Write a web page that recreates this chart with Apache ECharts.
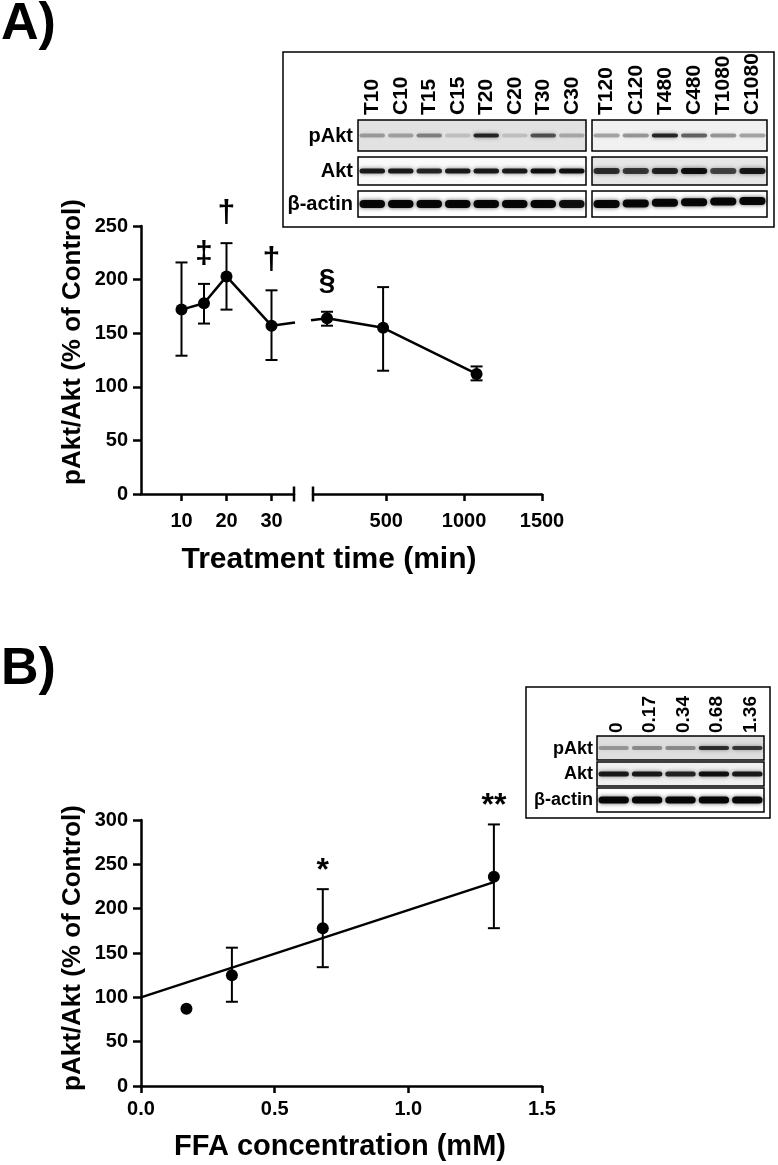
<!DOCTYPE html>
<html>
<head>
<meta charset="utf-8">
<script src="https://cdn.jsdelivr.net/npm/echarts@6/dist/echarts.min.js"></script>
<style>
html,body{margin:0;padding:0;background:#fff;}
#c{width:778px;height:1165px;}
</style>
</head>
<body>
<div id="c"></div>
<script>
// ---------- Panel A data ----------
const timeEarly = [10, 15, 20, 30];
const meanEarly = [172, 178, 203, 157];
const lowEarly  = [129, 159, 172, 125];
const highEarly = [216, 196, 234, 190];
const markEarly = ['', '‡', '†', '†'];

const timeLate = [120, 480, 1080];
const meanLate = [164, 155, 112];
const lowLate  = [157, 115, 106];
const highLate = [170, 193, 119];
const markLate = ['§', '', ''];

const ticksEarly = [10, 20, 30];
const ticksLate = [500, 1000, 1500];

// ---------- Panel B data ----------
const concB = [0.17, 0.34, 0.68, 1.32];
const meanB = [87, 125, 178, 236];
const lowB  = [null, 95, 134, 178];
const highB = [null, 156, 222, 295];
const markB = ['', '', '*', '**'];
const fitX = [0, 1.32];
const fitY = [100, 230];

// ---------- Blot labels / band intensities ----------
const lanesA1 = ['T10','C10','T15','C15','T20','C20','T30','C30'];
const lanesA2 = ['T120','C120','T480','C480','T1080','C1080'];
const lanesB = ['0','0.17','0.34','0.68','1.36'];
const rowsBlot = ['pAkt','Akt','β-actin'];
const pAktA1 = [0.3,0.28,0.4,0.15,0.8,0.15,0.6,0.25];
const pAktA2 = [0.3,0.35,0.8,0.55,0.35,0.3];
const aktA1  = [0.85,0.85,0.8,0.85,0.85,0.85,0.9,0.9];
const aktA2  = [0.75,0.7,0.8,0.9,0.65,0.85];
const actA1  = [0.95,0.95,0.95,0.95,0.95,0.95,0.95,0.9];
const actA2  = [0.95,0.95,0.95,0.95,0.95,0.95];
const pAktB = [0.3,0.35,0.35,0.75,0.7];
const aktB  = [0.85,0.85,0.8,0.9,0.85];
const actB  = [0.95,0.95,0.95,0.95,0.95];

const FF = '"Liberation Sans", Arial, sans-serif';
const chart = echarts.init(document.getElementById('c'), null, {renderer:'canvas'});

function errSeries(xs, lo, hi, marks, xi, yi, offset, fs) {
  const data = [];
  xs.forEach((x, i) => { if (lo[i] != null) data.push([x, lo[i], hi[i], i]); });
  return {
    type: 'custom', xAxisIndex: xi, yAxisIndex: yi, clip: false, z: 3,
    data: data,
    renderItem: function (params, api) {
      const x = api.value(0), l = api.value(1), h = api.value(2), idx = api.value(3);
      const ch = [];
      const cw = 6;
      const pl = api.coord([x, l]), ph = api.coord([x, h]);
      const st = {stroke:'#000', lineWidth:2};
      ch.push({type:'line', shape:{x1:pl[0],y1:pl[1],x2:ph[0],y2:ph[1]}, style:st});
      ch.push({type:'line', shape:{x1:pl[0]-cw,y1:pl[1],x2:pl[0]+cw,y2:pl[1]}, style:st});
      ch.push({type:'line', shape:{x1:ph[0]-cw,y1:ph[1],x2:ph[0]+cw,y2:ph[1]}, style:st});
      if (marks[idx]) {
        ch.push({type:'text', x: ph[0], y: ph[1] + offset,
          style:{text: marks[idx], align:'center', verticalAlign:'middle', fill:'#000',
            font: 'bold ' + fs + 'px ' + FF}});
      }
      return {type:'group', children: ch};
    }
  };
}

const axisLineStyle = {show:true, onZero:false, lineStyle:{color:'#000', width:2.5}};
const labelStyle = {color:'#000', fontWeight:'bold', fontSize:20, fontFamily:FF};
const tickStyle = {color:'#000', width:2.5};

const option = {
  animation: false,
  backgroundColor: '#fff',
  grid: [
    {left:141, top:226, width:153, height:268},
    {left:313, top:226, width:229, height:268},
    {left:141, top:820, width:401, height:266}
  ],
  xAxis: [
    {gridIndex:0, type:'value', min:1, max:35, axisLine:axisLineStyle,
     axisTick:{show:true, length:7, lineStyle:tickStyle, customValues: ticksEarly},
     axisLabel:Object.assign({margin:17, customValues: ticksEarly, formatter: v => String(v)}, labelStyle), splitLine:{show:false}},
    {gridIndex:1, type:'value', min:30, max:1500, axisLine:axisLineStyle,
     axisTick:{show:true, length:7, lineStyle:tickStyle, customValues: ticksLate},
     axisLabel:Object.assign({margin:17, customValues: ticksLate, formatter: v => String(v)}, labelStyle), splitLine:{show:false}},
    {gridIndex:2, type:'value', min:0, max:1.5, interval:0.5, axisLine:axisLineStyle,
     axisTick:{show:true, length:7, lineStyle:tickStyle},
     axisLabel:Object.assign({margin:13, formatter: v => v.toFixed(1)}, labelStyle), splitLine:{show:false}}
  ],
  yAxis: [
    {gridIndex:0, type:'value', min:0, max:250, interval:50, axisLine:axisLineStyle,
     axisTick:{show:true, length:8, lineStyle:tickStyle},
     axisLabel:Object.assign({margin:13}, labelStyle), splitLine:{show:false}},
    {gridIndex:1, type:'value', min:0, max:250, interval:50, show:false, splitLine:{show:false}},
    {gridIndex:2, type:'value', min:0, max:300, interval:50, axisLine:axisLineStyle,
     axisTick:{show:true, length:8, lineStyle:tickStyle},
     axisLabel:Object.assign({margin:13}, labelStyle), splitLine:{show:false}}
  ],
  series: [
    errSeries(timeEarly, lowEarly, highEarly, markEarly, 0, 0, -30, 32),
    errSeries(timeLate, lowLate, highLate, markLate, 1, 1, -31, 30),
    errSeries(concB, lowB, highB, markB, 2, 2, -18, 32),
    {type:'line', xAxisIndex:0, yAxisIndex:0, data: timeEarly.map((t,i)=>[t, meanEarly[i]]),
     symbol:'circle', symbolSize:12, itemStyle:{color:'#000'}, lineStyle:{color:'#000', width:2.5}, z:4, clip:false},
    {type:'line', xAxisIndex:1, yAxisIndex:1, data: timeLate.map((t,i)=>[t, meanLate[i]]),
     symbol:'circle', symbolSize:12, itemStyle:{color:'#000'}, lineStyle:{color:'#000', width:2.5}, z:4, clip:false},
    {type:'line', xAxisIndex:2, yAxisIndex:2, data: fitX.map((x,i)=>[x, fitY[i]]),
     symbol:'none', lineStyle:{color:'#000', width:2.5}, z:2},
    {type:'scatter', xAxisIndex:2, yAxisIndex:2, data: concB.map((c,i)=>[c, meanB[i]]),
     symbol:'circle', symbolSize:12, itemStyle:{color:'#000', opacity:1}, z:4}
  ]
};
chart.setOption(option);

// ---------- graphic overlay ----------
const g = [];
function txt(x, y, s, size, opts) {
  g.push(Object.assign({type:'text', x:x, y:y, z:10,
    style:Object.assign({text:s, fill:'#000', font:'bold ' + size + 'px ' + FF, align:'center', verticalAlign:'middle'}, (opts||{}).style||{})},
    (opts||{}).el||{}));
}
function rect(x, y, w, h, fill, stroke, lw, z) {
  g.push({type:'rect', shape:{x:x, y:y, width:w, height:h}, z:z||5,
    style:{fill:fill||'none', stroke:stroke||null, lineWidth:lw||0}});
}
function line(x1, y1, x2, y2, w) {
  g.push({type:'line', shape:{x1:x1, y1:y1, x2:x2, y2:y2}, z:6, style:{stroke:'#000', lineWidth:w||2}});
}

// panel letters
txt(1, 25, 'A)', 52, {style:{align:'left'}});
txt(1, 670, 'B)', 52, {style:{align:'left'}});

// axis titles
txt(73, 342, 'pAkt/Akt (% of Control)', 26, {el:{rotation:Math.PI/2}});
txt(329, 560, 'Treatment time (min)', 30);
txt(73, 948, 'pAkt/Akt (% of Control)', 26, {el:{rotation:Math.PI/2}});
txt(340, 1147, 'FFA concentration (mM)', 29);

// axis break marks + bridge line
const yAx = chart.convertToPixel({gridIndex:0}, [35, 0])[1];
const xLeftEnd = chart.convertToPixel({gridIndex:0}, [35, 0])[0];
const xRightStart = chart.convertToPixel({gridIndex:1}, [30, 0])[0];
line(xLeftEnd, yAx - 7.5, xLeftEnd, yAx + 7.5, 2.5);
line(xRightStart, yAx - 7.5, xRightStart, yAx + 7.5, 2.5);
const pA = chart.convertToPixel({gridIndex:0}, [timeEarly[timeEarly.length-1], meanEarly[meanEarly.length-1]]);
const pB = chart.convertToPixel({gridIndex:1}, [timeLate[0], meanLate[0]]);
function yAt(x) { return pA[1] + (pB[1]-pA[1]) * (x - pA[0]) / (pB[0]-pA[0]); }
const gx1 = xLeftEnd + 1, gx2 = xRightStart - 2;
line(pA[0], pA[1], gx1, yAt(gx1), 2.5);
line(gx2, yAt(gx2), pB[0], pB[1], 2.5);

// ---------- blots ----------
function band(cx, cy, w, h, a) {
  g.push({type:'rect', shape:{x:cx - w/2, y:cy - h/2, width:w, height:h, r:h/2}, z:6,
    style:{fill:'rgba(0,0,0,' + a + ')', shadowBlur:4, shadowColor:'rgba(0,0,0,' + (a*0.7) + ')'}});
}
function strip(x, y, w, h, bg, n, alphas, bh, tilt) {
  rect(x, y, w, h, bg, null, 0, 5);
  const lw = w / n;
  for (let i = 0; i < n; i++) {
    band(x + lw*(i+0.5), y + h/2 + (tilt ? tilt*(i/(n-1)) : 0), lw - 3, bh, alphas[i]);
  }
  g.push({type:'rect', shape:{x:x, y:y, width:w, height:h}, z:7, style:{fill:'none', stroke:'#000', lineWidth:1.5}});
}

// Blot A
rect(283, 52, 491, 175, '#fff', '#000', 1.5, 4);
const A1x = 358, A1w = 228, A2x = 592, A2w = 175;
strip(A1x, 120, A1w, 31, '#e2e2e2', 8, pAktA1, 4, 0);
strip(A2x, 120, A2w, 31, '#f1f1f1', 6, pAktA2, 4, 0);
strip(A1x, 157, A1w, 28, '#fafafa', 8, aktA1, 5, 0);
strip(A2x, 157, A2w, 28, '#e6e6e6', 6, aktA2, 6, 0);
strip(A1x, 191, A1w, 26, '#fff', 8, actA1, 8, 0);
strip(A2x, 191, A2w, 26, '#fff', 6, actA2, 8, -3);
lanesA1.forEach((s, i) => txt(A1x + A1w/8*(i+0.5), 115, s, 21, {el:{rotation:Math.PI/2}, style:{align:'left'}}));
lanesA2.forEach((s, i) => txt(A2x + A2w/6*(i+0.5), 115, s, 21, {el:{rotation:Math.PI/2}, style:{align:'left'}}));
txt(353, 136, rowsBlot[0], 20, {style:{align:'right'}});
txt(353, 171, rowsBlot[1], 20, {style:{align:'right'}});
txt(353, 204, rowsBlot[2], 20, {style:{align:'right'}});

// Blot B
rect(526, 687, 244, 131, '#fff', '#000', 1.5, 4);
const Bx = 597, Bw = 167;
strip(Bx, 736, Bw, 24, '#dedede', 5, pAktB, 4, 0);
strip(Bx, 762, Bw, 24, '#f0f0f0', 5, aktB, 5, 0);
strip(Bx, 788, Bw, 24, '#fff', 5, actB, 7, 0);
lanesB.forEach((s, i) => txt(Bx + Bw/5*(i+0.5) + 3, 733, s, 19, {el:{rotation:Math.PI/2}, style:{align:'left'}}));
txt(593, 749, rowsBlot[0], 18, {style:{align:'right'}});
txt(593, 774, rowsBlot[1], 18, {style:{align:'right'}});
txt(593, 800, rowsBlot[2], 18, {style:{align:'right'}});

chart.setOption({graphic: g});
</script>
</body>
</html>
